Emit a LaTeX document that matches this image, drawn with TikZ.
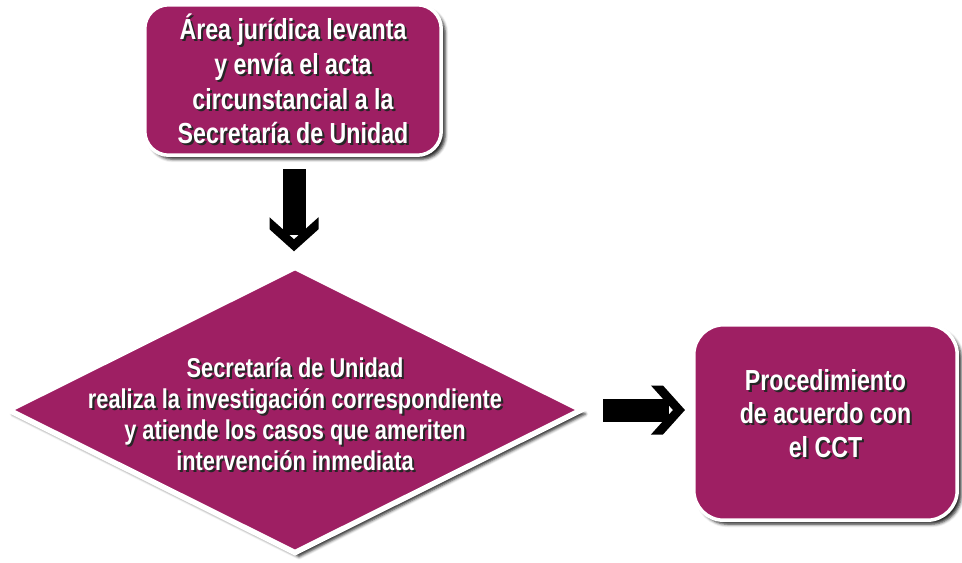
\documentclass[tikz,border=0pt]{standalone}
\usepackage{fontspec}
\newfontfamily\rotulo[FakeStretch=0.8]{Liberation Sans}
\usetikzlibrary{shapes.geometric,shadows.blur,calc}
\definecolor{ciruela}{RGB}{158,31,99}
\newcommand{\sombra}[1]{\leavevmode\rlap{\hspace{1.2pt}\raisebox{-1.2pt}{\color{black!85}#1}}{\color{white}#1}}
\tikzset{
  caja/.style={draw=white, line width=0.07cm, fill=ciruela, align=center,
    blur shadow={shadow xshift=0.08cm, shadow yshift=-0.08cm, shadow blur radius=0.06cm, shadow opacity=85},
    font=\rotulo\bfseries\fontsize{16.5}{19.8}\selectfont},
  rombo/.style={caja, diamond, line width=0.11cm, inner sep=0pt},
  texto/.style={align=center, font=\rotulo\bfseries\fontsize{16.5}{19}\selectfont},
  flecha/.pic={
    \fill[black] (-41,-11.5) rectangle (25,11.5);
    \fill[black] (7,24.5) -- (19,24.5) -- (41,0) -- (19,-24.5) -- (7,-24.5) -- (29,0) -- cycle;
  }
}
\begin{document}
\begin{tikzpicture}[x=0.02cm, y=0.02cm]
    \useasboundingbox (0,0) rectangle (962,-562) ;
    \node[caja, rounded corners=0.48cm, minimum width=5.93cm, minimum height=3.01cm] (acta) at (293,-80)
      {\sombra{Área jurídica levanta}\\ \sombra{y envía el acta}\\ \sombra{circunstancial a la}\\ \sombra{Secretaría de Unidad}} ;
    \node[rombo, minimum width=11.5cm, minimum height=5.75cm] (inv) at (295,-410) {} ;
    \node[texto, font=\rotulo\bfseries\fontsize{15.5}{17.6}\selectfont] (invtxt) at ([yshift=-0.1cm]inv.center)
      {\sombra{Secretaría de Unidad}\\ \sombra{realiza la investigación correspondiente}\\ \sombra{y atiende los casos que ameriten}\\ \sombra{intervención inmediata}} ;
    \node[caja, rounded corners=0.6cm, minimum width=5.27cm, minimum height=3.91cm] (cct) at (825.5,-422.5) {} ;
    \node[texto] (ccttxt) at ([yshift=0.16cm]cct.center)
      {\sombra{Procedimiento}\\ \sombra{de acuerdo con}\\ \sombra{el CCT}} ;
    \pic[rotate=-90] at ($(acta.south)!0.5!(inv.north)$) {flecha} ;
    \pic at ($(inv.east)!0.55!(inv.east -| cct.west)$) {flecha} ;
\end{tikzpicture}
\end{document}
